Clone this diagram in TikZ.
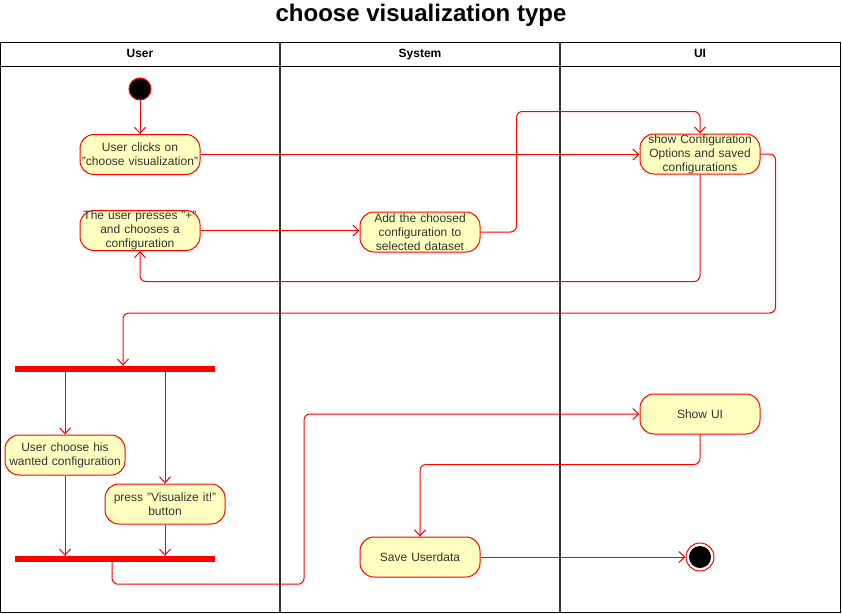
\documentclass[tikz,border=0pt]{standalone}
\usepackage{fontspec}
\setmainfont{Liberation Sans}
\usetikzlibrary{arrows.meta,positioning}
\definecolor{actfill}{HTML}{FFFFC0}
\definecolor{lanegray}{HTML}{333333}
\tikzset{
  x=1pt,y=-1pt,
  flow/.style={draw=red,line width=1pt,-{Straight Barb[length=6pt,width=11pt]},rounded corners=6pt},
  action/.style={draw=red,line width=1pt,fill=actfill,rounded corners=14pt,minimum width=120pt,minimum height=40pt,
    text width=120pt,align=center,inner sep=0pt,font=\fontsize{12}{14}\selectfont,text=lanegray},
  bar/.style={fill=red,minimum width=200pt,minimum height=6pt,inner sep=0pt},
  initstate/.style={circle,draw=red,line width=1pt,fill=black,minimum size=22pt,inner sep=0pt},
  endstate/.style={circle,draw=red,line width=1pt,fill=white,minimum size=28pt,inner sep=0pt,
    path picture={\fill[black] (path picture bounding box.center) circle (11pt);}},
  lanehead/.style={font=\bfseries\fontsize{12}{14}\selectfont,text height=9pt,text depth=3pt}
}

\begin{document}
\begin{tikzpicture}
  \useasboundingbox (0,0) rectangle (842,613);
  % swimlanes
  \node[font=\bfseries\fontsize{24}{28}\selectfont] (title) at (421,15) {choose visualization type};
  \draw[black,line width=1pt] (0,42) rectangle (840,612);
  \draw[black,line width=1pt] (0,66) -- (840,66);
  \draw[lanegray,line width=1.5pt] (280,42) -- (280,612);
  \draw[lanegray,line width=1.5pt] (560,42) -- (560,612);
  \node[lanehead] (huser) at (140,54) {User};
  \node[lanehead] (hsys) at (420,54) {System};
  \node[lanehead] (hui) at (700,54) {UI};

  \node[initstate] (start) at (140,89) {};
  \node[action] (clicks) at (140,154.5) {User clicks on\\"choose visualization"};
  \node[action] (presses) at (140,230.5) {The user presses "+"\\and chooses a\\configuration};
  \node[action] (add) at (420,232) {Add the choosed\\configuration to\\selected dataset};
  \node[action] (show) at (700,154) {show Configuration\\Options and saved\\configurations};
  \node[bar] (fork) at (115,369) {};
  \node[action] (choose) at (65,455) {User choose his\\wanted configuration};
  \node[action] (press) at (165,504) {press "Visualize it!"\\button};
  \node[bar] (join) at (115,559) {};
  \node[action] (showui) at (700,414) {Show UI};
  \node[action] (save) at (420,557) {Save Userdata};
  \node[endstate] (end) at (700,557) {};

  \draw[flow] ([yshift=-11pt]start.center) -- (clicks.north);
  \draw[flow] (clicks.east) -- (show.west |- clicks.east);
  \draw[flow] (presses.east) -- (add.west |- presses.east);
  \draw[flow] (add.east) -- ++(36,0) |- ([yshift=22pt]show.north) -- (show.north);
  \draw[flow] (show.south) -- ++(0,107) -| (presses.south);
  \draw[flow] (show.east) -- ++(15,0) -- ++(0,159) -| ([xshift=8pt]fork.north);
  \draw[flow] (choose.north |- fork.south) -- (choose.north);
  \draw[flow] (press.north |- fork.south) -- (press.north);
  \draw[flow] (choose.south) -- (choose.south |- join.north);
  \draw[flow] (press.south) -- (press.south |- join.north);
  \draw[flow] ([xshift=-3pt]join.south) -- ++(0,22) -- ++(192,0) |- (showui.west);
  \draw[flow] (showui.south) -- ++(0,30) -| (save.north);
  \draw[flow] (save.east) -- (end.west);
\end{tikzpicture}
\end{document}
